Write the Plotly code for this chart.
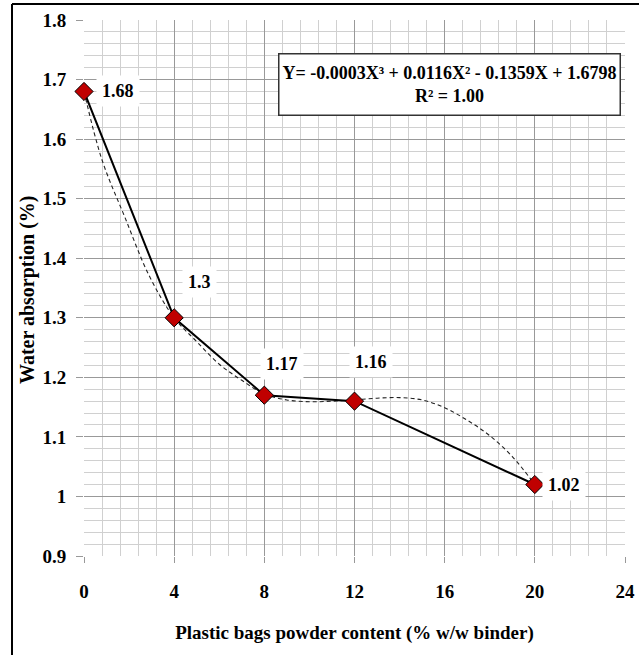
import plotly.graph_objects as go

# Measured data
content = [0, 4, 8, 12, 20]
absorption = [1.68, 1.30, 1.17, 1.16, 1.02]
point_labels = ["1.68", "1.3", "1.17", "1.16", "1.02"]

# Trendline (cubic)
trend_x = [0, 0.8, 1.8, 2.9, 4, 5, 6, 7, 8, 9, 10, 11, 12, 13, 14, 15, 16, 17, 18, 19, 20]
trend_y = [1.68, 1.565, 1.47, 1.37, 1.30, 1.26, 1.222, 1.195, 1.172, 1.162, 1.159, 1.160,
           1.162, 1.165, 1.166, 1.162, 1.149, 1.128, 1.102, 1.067, 1.02]

x_ticks = [0, 4, 8, 12, 16, 20, 24]
y_ticks = [0.9, 1.0, 1.1, 1.2, 1.3, 1.4, 1.5, 1.6, 1.7, 1.8]
y_tick_text = ["0.9", "1", "1.1", "1.2", "1.3", "1.4", "1.5", "1.6", "1.7", "1.8"]

equation_text = "Y= -0.0003X³ + 0.0116X² - 0.1359X + 1.6798<br>R² = 1.00"
x_title = "Plastic bags powder content (% w/w binder)"
y_title = "Water absorption (%)"

FONT = "Liberation Serif"
L, R, T, B = 84, 625, 20, 556   # plot area in pixels
PW, PH = R - L, B - T

fig = go.Figure()

fig.add_trace(go.Scatter(
    x=trend_x, y=trend_y, mode="lines", line_shape="spline",
    line=dict(color="#222222", width=1.1, dash="4px,3px"),
    hoverinfo="skip", showlegend=False, cliponaxis=False,
))

fig.add_trace(go.Scatter(
    x=content, y=absorption, mode="lines+markers",
    line=dict(color="black", width=2),
    marker=dict(symbol="diamond", size=14, color="#C00000",
                line=dict(color="black", width=1)),
    showlegend=False, cliponaxis=False,
))

# data labels (offsets in pixels)
offsets = [(34, 0), (25, 36), (18, 31), (16, 39), (29, 0)]
for xv, yv, txt, (dx, dy) in zip(content, absorption, point_labels, offsets):
    fig.add_annotation(
        x=xv, y=yv, text="<b>%s</b>" % txt, showarrow=False,
        xshift=dx, yshift=dy, bgcolor="white", borderpad=5,
        font=dict(family=FONT, size=18, color="black"),
    )

# equation box
fig.add_annotation(
    xref="paper", yref="paper", x=(449 - L) / PW, y=1 - (84 - T) / PH,
    xanchor="center", yanchor="middle",
    text="<b>%s</b>" % equation_text, showarrow=False,
    bgcolor="white", bordercolor="#333333", borderwidth=1.5,
    width=338, height=58, align="center",
    font=dict(family=FONT, size=18, color="black"),
)

# y-axis title
fig.add_annotation(
    xref="paper", yref="paper", x=(27 - L) / PW, y=1 - (290 - T) / PH,
    xanchor="center", yanchor="middle", textangle=-90,
    text="<b>%s</b>" % y_title, showarrow=False,
    font=dict(family=FONT, size=20, color="black"),
)

# outer frame lines (top and left)
fig.add_shape(type="line", xref="paper", yref="paper",
              x0=(12 - L) / PW, x1=(639 - L) / PW,
              y0=1 + (T - 4) / PH, y1=1 + (T - 4) / PH,
              line=dict(color="black", width=2))
fig.add_shape(type="line", xref="paper", yref="paper",
              x0=(12 - L) / PW, x1=(12 - L) / PW,
              y0=1 + (T - 4) / PH, y1=-(655 - B) / PH,
              line=dict(color="black", width=2))

fig.update_layout(
    width=639, height=655,
    margin=dict(l=L, r=639 - R, t=T, b=655 - B),
    paper_bgcolor="white", plot_bgcolor="white",
    font=dict(family=FONT, color="black"),
)

fig.update_xaxes(
    range=[0, 24], tickvals=x_ticks, ticktext=["<b>%d</b>" % v for v in x_ticks],
    showgrid=True, gridcolor="#999999", gridwidth=1,
    minor=dict(dtick=0.8, tick0=0, showgrid=True, gridcolor="#d0d0d0", gridwidth=1),
    ticks="outside", ticklen=6, tickcolor="#999999",
    ticklabelstandoff=12, automargin=False,
    tickfont=dict(family=FONT, size=19, color="black"),
    showline=False, zeroline=False,
    title=dict(text="<b>%s</b>" % x_title,
               font=dict(family=FONT, size=19, color="black"), standoff=24),
)

fig.update_yaxes(
    range=[0.9, 1.8], tickvals=y_ticks, ticktext=["<b>%s</b>" % t for t in y_tick_text],
    showgrid=True, gridcolor="#999999", gridwidth=1,
    minor=dict(dtick=0.02, tick0=0.9, showgrid=True, gridcolor="#d0d0d0", gridwidth=1),
    ticks="outside", ticklen=7, tickcolor="#999999",
    ticklabelstandoff=6, automargin=False,
    tickfont=dict(family=FONT, size=19, color="black"),
    showline=False, zeroline=False,
)

fig.write_html("out.html", config={"displayModeBar": False},
               post_script="document.body.style.margin='0px';")
